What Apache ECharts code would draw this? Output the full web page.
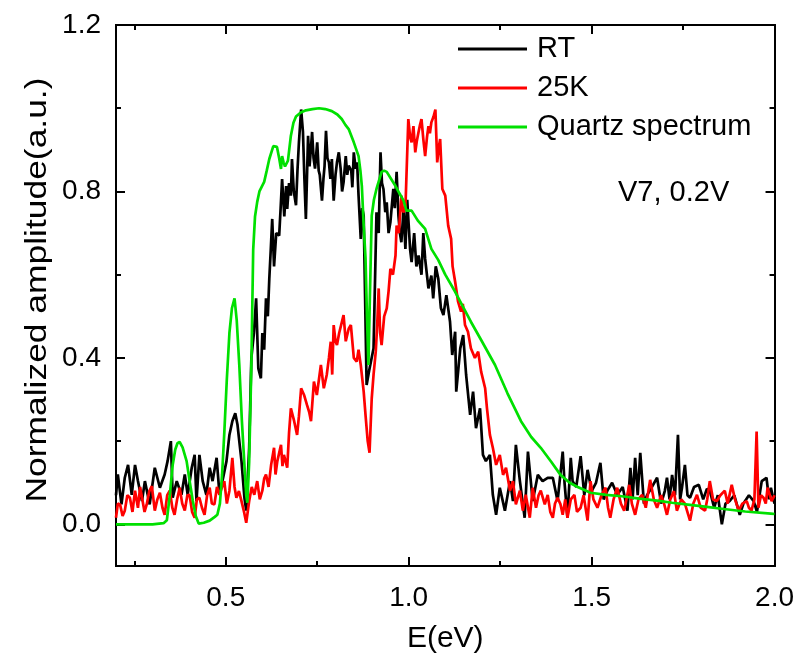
<!DOCTYPE html>
<html><head><meta charset="utf-8">
<script src="https://cdn.jsdelivr.net/npm/echarts@6/dist/echarts.min.js"></script>
<style>html,body{margin:0;padding:0;background:#fff}#c{width:797px;height:659px}</style>
</head><body><div id="c"></div>
<script>
// ---- data ----
const xMajorTicks = [0.5, 1.0, 1.5, 2.0];
const xMinorTicks = [0.25, 0.75, 1.25, 1.75];
const yMajorTicks = [0.0, 0.4, 0.8, 1.2];
const yMinorTicks = [0.2, 0.6, 1.0];
const seriesNames = ['RT', '25K', 'Quartz spectrum'];
const xTitle = 'E(eV)';
const yTitle = 'Normalized amplitude(a.u.)';
const annotation = 'V7, 0.2V';

const rtX = [0.200,0.205,0.215,0.224,0.233,0.243,0.252,0.260,0.271,0.279,0.292,0.306,0.320,0.333,0.341,0.350,0.355,0.366,0.379,0.388,0.396,0.407,0.415,0.420,0.428,0.437,0.447,0.456,0.464,0.475,0.483,0.491,0.502,0.510,0.518,0.526,0.532,0.543,0.551,0.556,0.564,0.570,0.577,0.583,0.589,0.596,0.600,0.605,0.610,0.615,0.619,0.623,0.627,0.632,0.638,0.646,0.650,0.654,0.660,0.665,0.668,0.673,0.678,0.681,0.686,0.692,0.696,0.700,0.706,0.711,0.715,0.719,0.725,0.729,0.732,0.736,0.740,0.744,0.750,0.754,0.757,0.763,0.767,0.770,0.774,0.778,0.782,0.786,0.790,0.795,0.800,0.804,0.809,0.814,0.818,0.822,0.828,0.832,0.836,0.843,0.846,0.850,0.855,0.859,0.863,0.869,0.873,0.877,0.885,0.892,0.904,0.912,0.918,0.923,0.927,0.931,0.936,0.940,0.945,0.950,0.958,0.962,0.967,0.972,0.976,0.980,0.986,0.991,0.996,1.000,1.004,1.008,1.015,1.021,1.027,1.035,1.040,1.045,1.054,1.062,1.067,1.074,1.081,1.088,1.095,1.103,1.113,1.119,1.127,1.130,1.141,1.149,1.157,1.168,1.176,1.184,1.195,1.203,1.211,1.222,1.230,1.239,1.249,1.263,1.277,1.285,1.293,1.304,1.317,1.326,1.339,1.353,1.366,1.380,1.394,1.407,1.421,1.426,1.434,1.443,1.448,1.458,1.470,1.480,1.489,1.500,1.512,1.524,1.533,1.543,1.556,1.570,1.585,1.598,1.606,1.612,1.619,1.626,1.633,1.643,1.652,1.665,1.679,1.690,1.700,1.706,1.713,1.720,1.728,1.736,1.742,1.747,1.755,1.762,1.769,1.780,1.793,1.805,1.815,1.823,1.835,1.845,1.856,1.866,1.877,1.890,1.905,1.915,1.930,1.943,1.952,1.965,1.978,1.985,1.990,2.000];
const rtY = [0.070,0.120,0.048,0.112,0.143,0.071,0.143,0.104,0.056,0.104,0.048,0.136,0.088,0.120,0.152,0.200,0.064,0.104,0.071,0.120,0.071,0.136,0.167,0.056,0.167,0.104,0.071,0.136,0.104,0.160,0.071,0.104,0.152,0.215,0.248,0.267,0.240,0.152,0.064,0.033,0.184,0.400,0.460,0.543,0.375,0.351,0.460,0.420,0.543,0.500,0.590,0.660,0.734,0.620,0.700,0.694,0.760,0.830,0.740,0.813,0.758,0.820,0.790,0.878,0.800,0.767,0.850,0.918,0.997,0.943,0.830,0.734,0.934,0.860,0.894,0.943,0.880,0.855,0.918,0.850,0.840,0.778,0.830,0.860,0.946,0.880,0.870,0.830,0.878,0.778,0.840,0.870,0.894,0.855,0.800,0.822,0.885,0.840,0.862,0.850,0.810,0.894,0.855,0.870,0.790,0.686,0.760,0.742,0.335,0.370,0.423,0.750,0.700,0.894,0.820,0.806,0.750,0.774,0.700,0.726,0.806,0.760,0.847,0.742,0.700,0.678,0.758,0.662,0.780,0.720,0.660,0.630,0.700,0.620,0.646,0.600,0.700,0.638,0.567,0.598,0.543,0.620,0.590,0.520,0.503,0.551,0.487,0.407,0.463,0.319,0.423,0.455,0.359,0.263,0.319,0.231,0.279,0.167,0.152,0.167,0.071,0.023,0.088,0.033,0.104,0.056,0.191,0.104,0.016,0.175,0.056,0.119,0.104,0.112,0.112,0.056,0.175,0.100,0.016,0.160,0.104,0.090,0.164,0.070,0.131,0.080,0.100,0.148,0.060,0.081,0.100,0.071,0.090,0.033,0.136,0.060,0.160,0.070,0.172,0.050,0.071,0.090,0.112,0.050,0.080,0.112,0.060,0.119,0.070,0.215,0.060,0.088,0.143,0.070,0.064,0.090,0.095,0.060,0.085,0.081,0.040,0.070,0.000,0.050,0.056,0.070,0.023,0.050,0.070,0.056,0.030,0.104,0.112,0.060,0.088,0.050];

const k25X = [0.200,0.205,0.211,0.218,0.224,0.231,0.238,0.245,0.252,0.260,0.266,0.271,0.278,0.284,0.291,0.298,0.306,0.313,0.320,0.327,0.333,0.340,0.347,0.354,0.360,0.367,0.374,0.381,0.388,0.395,0.401,0.408,0.415,0.421,0.428,0.435,0.442,0.449,0.456,0.462,0.469,0.476,0.483,0.490,0.496,0.503,0.510,0.518,0.524,0.529,0.536,0.543,0.550,0.556,0.564,0.571,0.578,0.586,0.593,0.600,0.605,0.610,0.617,0.624,0.632,0.636,0.641,0.651,0.655,0.659,0.668,0.673,0.678,0.687,0.695,0.700,0.706,0.714,0.722,0.728,0.733,0.741,0.749,0.760,0.768,0.776,0.782,0.787,0.791,0.795,0.800,0.804,0.810,0.814,0.822,0.828,0.831,0.836,0.842,0.850,0.858,0.863,0.869,0.877,0.882,0.888,0.893,0.899,0.904,0.910,0.914,0.918,0.922,0.926,0.933,0.940,0.945,0.950,0.957,0.964,0.967,0.973,0.980,0.985,0.991,0.999,1.004,1.008,1.013,1.018,1.022,1.027,1.031,1.035,1.040,1.045,1.050,1.054,1.058,1.062,1.068,1.073,1.078,1.083,1.086,1.092,1.100,1.108,1.116,1.120,1.127,1.135,1.143,1.148,1.154,1.162,1.170,1.181,1.190,1.198,1.209,1.214,1.222,1.230,1.239,1.249,1.258,1.266,1.277,1.285,1.293,1.304,1.312,1.320,1.331,1.339,1.348,1.355,1.361,1.372,1.380,1.387,1.394,1.400,1.407,1.415,1.421,1.428,1.434,1.443,1.453,1.460,1.470,1.478,1.489,1.497,1.505,1.516,1.527,1.538,1.545,1.551,1.560,1.570,1.580,1.589,1.603,1.610,1.619,1.628,1.638,1.648,1.660,1.670,1.679,1.690,1.698,1.706,1.715,1.725,1.733,1.745,1.755,1.769,1.778,1.788,1.798,1.810,1.816,1.823,1.832,1.842,1.852,1.864,1.872,1.883,1.892,1.902,1.912,1.924,1.930,1.937,1.945,1.951,1.956,1.963,1.970,1.976,1.981,1.992,2.000];
const k25Y = [0.016,0.050,0.048,0.020,0.033,0.070,0.064,0.030,0.081,0.040,0.090,0.088,0.030,0.048,0.080,0.092,0.033,0.060,0.076,0.040,0.023,0.070,0.081,0.040,0.023,0.060,0.088,0.050,0.033,0.070,0.071,0.030,0.016,0.060,0.064,0.040,0.023,0.070,0.088,0.050,0.048,0.090,0.071,0.090,0.104,0.050,0.081,0.160,0.090,0.064,0.080,0.056,0.030,0.004,0.056,0.090,0.071,0.104,0.060,0.081,0.110,0.120,0.090,0.143,0.184,0.120,0.152,0.191,0.140,0.167,0.136,0.220,0.279,0.248,0.215,0.260,0.327,0.311,0.287,0.270,0.248,0.343,0.311,0.383,0.327,0.359,0.400,0.439,0.360,0.479,0.440,0.431,0.460,0.463,0.503,0.440,0.439,0.470,0.479,0.400,0.391,0.420,0.383,0.319,0.263,0.200,0.172,0.303,0.360,0.415,0.480,0.567,0.460,0.431,0.500,0.519,0.560,0.614,0.600,0.646,0.718,0.700,0.790,0.750,0.758,0.974,0.930,0.918,0.957,0.894,0.920,0.943,0.960,0.974,0.926,0.885,0.930,0.957,0.940,0.966,0.980,0.997,0.870,0.910,0.926,0.806,0.790,0.718,0.686,0.620,0.583,0.535,0.511,0.530,0.479,0.463,0.423,0.400,0.415,0.367,0.327,0.279,0.215,0.184,0.143,0.167,0.119,0.136,0.081,0.104,0.048,0.081,0.033,0.071,0.016,0.088,0.040,0.070,0.081,0.048,0.071,0.030,0.016,0.050,0.064,0.048,0.023,0.060,0.016,0.060,0.071,0.030,0.040,0.070,0.009,0.104,0.060,0.040,0.070,0.088,0.040,0.016,0.060,0.088,0.050,0.033,0.095,0.050,0.023,0.060,0.071,0.040,0.107,0.060,0.040,0.070,0.050,0.023,0.060,0.080,0.033,0.060,0.050,0.009,0.050,0.071,0.040,0.033,0.060,0.104,0.060,0.056,0.070,0.081,0.050,0.095,0.060,0.033,0.050,0.056,0.040,0.033,0.060,0.223,0.040,0.070,0.064,0.050,0.088,0.056,0.070];

const qzX = [0.200,0.250,0.300,0.330,0.339,0.347,0.355,0.362,0.368,0.374,0.382,0.393,0.402,0.410,0.418,0.426,0.440,0.456,0.470,0.477,0.484,0.490,0.496,0.503,0.510,0.517,0.524,0.530,0.537,0.544,0.551,0.556,0.559,0.564,0.570,0.575,0.580,0.586,0.592,0.605,0.612,0.619,0.630,0.640,0.646,0.651,0.654,0.658,0.662,0.670,0.678,0.685,0.692,0.705,0.719,0.737,0.755,0.772,0.790,0.805,0.817,0.827,0.836,0.850,0.863,0.868,0.872,0.877,0.882,0.886,0.890,0.894,0.899,0.905,0.912,0.926,0.933,0.940,0.952,0.964,0.975,0.986,0.994,1.008,1.025,1.045,1.062,1.081,1.100,1.127,1.150,1.170,1.200,1.236,1.270,1.307,1.335,1.361,1.390,1.415,1.440,1.462,1.497,1.540,1.589,1.630,1.679,1.720,1.769,1.815,1.861,1.920,1.990,2.000];
const qzY = [0.000,0.000,0.000,0.003,0.010,0.070,0.143,0.180,0.195,0.198,0.185,0.152,0.100,0.056,0.020,0.002,0.004,0.009,0.018,0.023,0.050,0.120,0.220,0.350,0.460,0.520,0.543,0.490,0.383,0.250,0.143,0.070,0.052,0.150,0.383,0.660,0.740,0.775,0.800,0.823,0.850,0.878,0.909,0.907,0.880,0.854,0.885,0.870,0.860,0.874,0.934,0.965,0.980,0.990,0.995,0.998,1.000,0.998,0.993,0.985,0.974,0.960,0.950,0.918,0.885,0.850,0.813,0.718,0.640,0.500,0.383,0.550,0.742,0.780,0.806,0.847,0.850,0.847,0.830,0.813,0.795,0.778,0.754,0.754,0.730,0.710,0.662,0.635,0.600,0.559,0.520,0.487,0.440,0.383,0.315,0.248,0.210,0.184,0.150,0.119,0.100,0.090,0.076,0.071,0.067,0.062,0.057,0.052,0.047,0.042,0.037,0.031,0.026,0.025];

const xs = [rtX, k25X, qzX];
const ys = [rtY, k25Y, qzY];
const colors = ['#000000', '#ff0000', '#00e000'];

// ---- chart ----
const FONT = 'Liberation Sans, Arial, sans-serif';
const chart = echarts.init(document.getElementById('c'), null, {renderer: 'canvas'});
const lineStyle = {color: '#000', width: 2};
function xAx(pos, ticks, len, showLabel, extra) {
  return Object.assign({
    type: 'value', position: pos, min: 0.2, max: 2.0,
    axisLine: {show: true, onZero: false, lineStyle: lineStyle},
    axisTick: {show: true, inside: true, length: len, customValues: ticks, lineStyle: {color: '#000', width: 2}},
    axisLabel: showLabel ? {show: true, customValues: ticks, formatter: v => v.toFixed(1), color: '#000', fontSize: 28, fontFamily: FONT, margin: 18} : {show: false},
    splitLine: {show: false}
  }, extra || {});
}
function yAx(pos, ticks, len, showLabel, extra) {
  return Object.assign({
    type: 'value', position: pos, min: -0.1, max: 1.2,
    axisLine: {show: true, onZero: false, lineStyle: lineStyle},
    axisTick: {show: true, inside: true, length: len, customValues: ticks, lineStyle: {color: '#000', width: 2}},
    axisLabel: showLabel ? {show: true, customValues: ticks, formatter: v => v.toFixed(1), color: '#000', fontSize: 28, fontFamily: FONT, margin: 15} : {show: false},
    splitLine: {show: false}
  }, extra || {});
}

const series = seriesNames.map((n, i) => ({
  name: n, type: 'line', xAxisIndex: 0, yAxisIndex: 0,
  data: xs[i].map((x, j) => [x, ys[i][j]]),
  showSymbol: false, symbol: 'none', smooth: false,
  lineStyle: {color: colors[i], width: 2.7},
  itemStyle: {color: colors[i]},
  animation: false
}));

chart.setOption({
  animation: false,
  backgroundColor: '#fff',
  grid: {left: 116, right: 19, top: 25, bottom: 91, containLabel: false},
  xAxis: [
    xAx('bottom', xMajorTicks, 9, true, {name: xTitle, nameLocation: 'middle', nameGap: 58, nameTextStyle: {color: '#000', fontSize: 30, fontFamily: FONT}}),
    xAx('bottom', xMinorTicks, 5, false),
    xAx('top', xMajorTicks, 9, false),
    xAx('top', xMinorTicks, 5, false)
  ],
  yAxis: [
    yAx('left', yMajorTicks, 9, true),
    yAx('left', yMinorTicks, 5, false),
    yAx('right', yMajorTicks, 9, false),
    yAx('right', yMinorTicks, 5, false)
  ],
  legend: {
    show: true, orient: 'vertical', left: 458, top: 34, padding: 0,
    data: seriesNames.map((n, i) => ({name: n, icon: 'rect', itemStyle: {color: colors[i]}})),
    itemWidth: 69, itemHeight: 3, itemGap: 9, selectedMode: false,
    textStyle: {color: '#000', fontSize: 29, fontFamily: FONT, lineHeight: 30, padding: [0, 0, 0, 5]}
  },
  graphic: [{
    type: 'text', left: 618, top: 178,
    style: {text: annotation, fill: '#000', font: '29px ' + FONT}
  }, {
    type: 'text', x: 38, y: 290, rotation: Math.PI / 2, scaleX: 1.18, scaleY: 1,
    style: {text: yTitle, fill: '#000', font: '30px ' + FONT, textAlign: 'center', textVerticalAlign: 'middle'}
  }],
  series: series
});
</script>
</body></html>
